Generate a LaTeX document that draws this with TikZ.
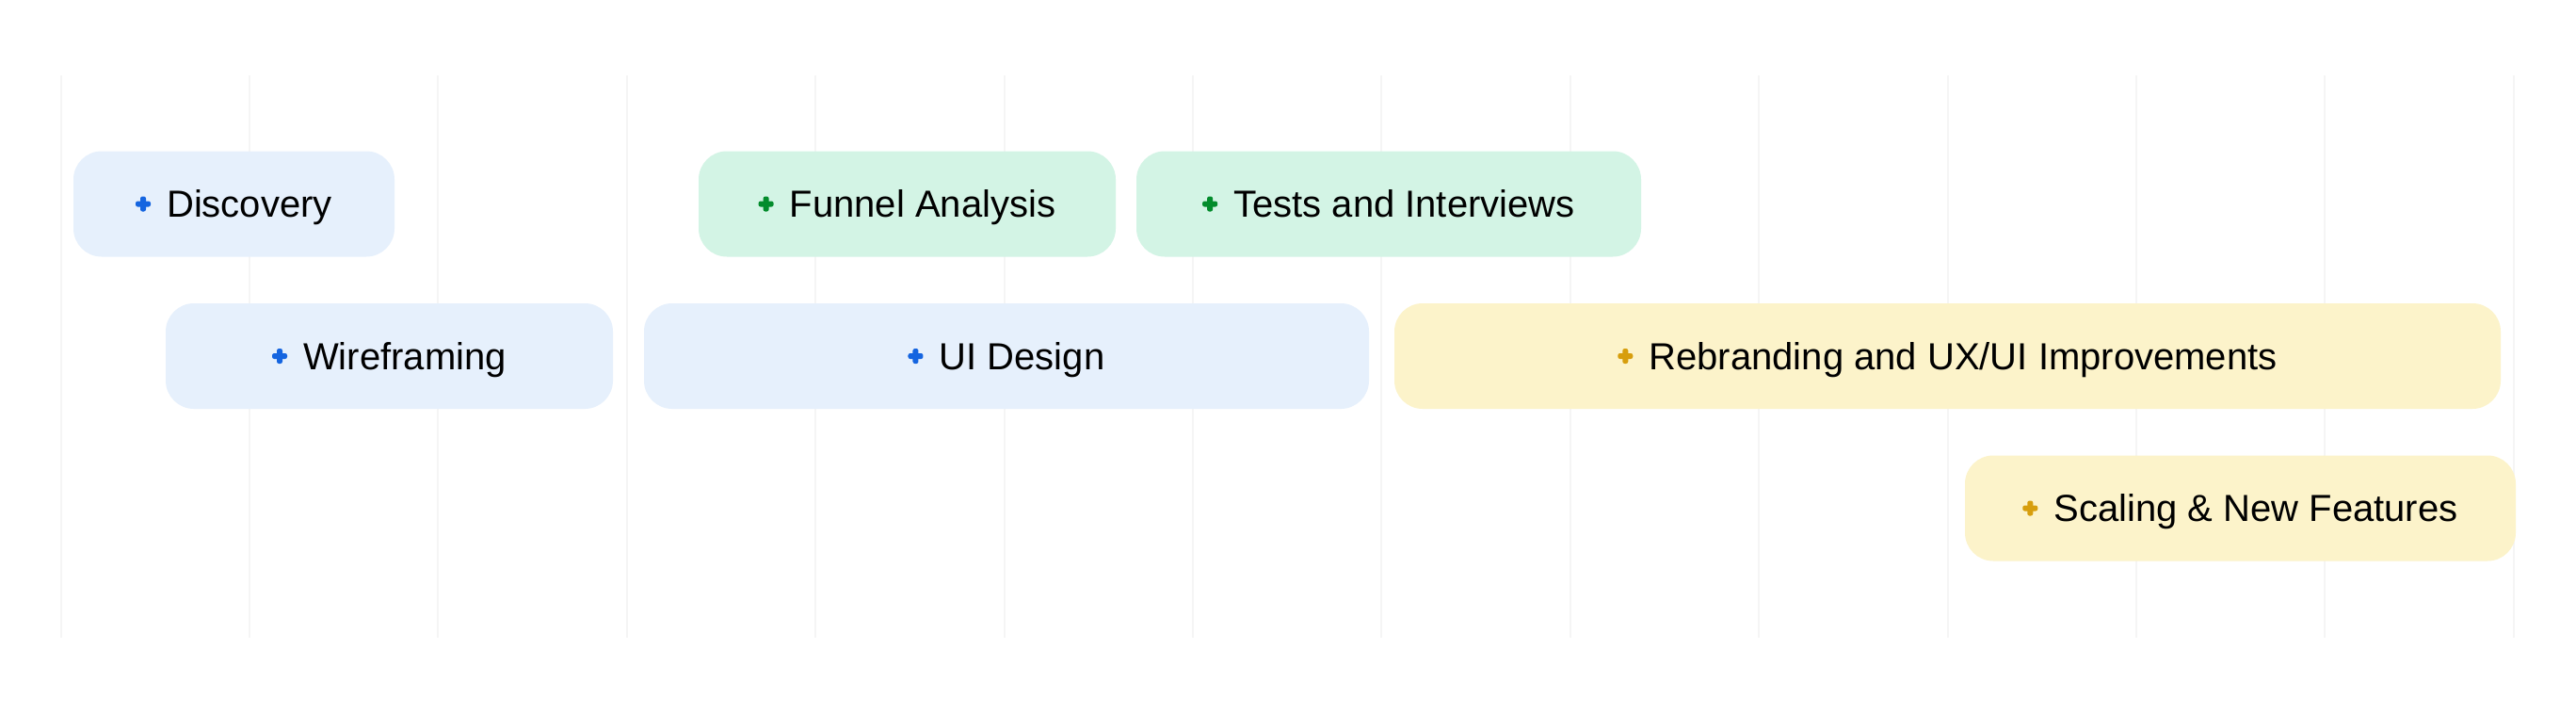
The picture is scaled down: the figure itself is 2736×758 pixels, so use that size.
\documentclass[tikz,border=0pt]{standalone}
\usepackage{fontspec}
\setmainfont{Liberation Sans}
\definecolor{gridc}{HTML}{F5F5F5}
\definecolor{bluefill}{HTML}{E6F0FC}
\definecolor{blueicon}{HTML}{1565E0}
\definecolor{greenfill}{HTML}{D3F4E5}
\definecolor{greenicon}{HTML}{038C2C}
\definecolor{yellowfill}{HTML}{FCF3CA}
\definecolor{yellowicon}{HTML}{D79E0D}
\tikzset{
  gridline/.style={draw=gridc, line width=2pt},
  taskbox/.style={rectangle, rounded corners=30pt, minimum height=112pt, inner sep=0pt, draw=none},
  bluebox/.style={taskbox, fill=bluefill},
  greenbox/.style={taskbox, fill=greenfill},
  yellowbox/.style={taskbox, fill=yellowfill},
  tasklabel/.style={inner sep=0pt, font=\fontsize{40}{48}\selectfont, text height=28.6pt, text depth=0pt, text=black},
  plusicon/.pic={\fill[rounded corners=2.2pt] (-8,-3) rectangle (8,3);
                 \fill[rounded corners=2.2pt] (-3,-8) rectangle (3,8);}
}
\begin{document}
\begin{tikzpicture}[x=1pt, y=-1pt]
\useasboundingbox[fill=white] (0,0) rectangle (2736,758);
\foreach \i in {0,...,13} {
  \draw[gridline] ({64.6+200.4*\i},80) -- ({64.6+200.4*\i},677);
}
% row 1
\node[bluebox, minimum width=341pt] (disc) at (248.5,216.5) {};
\node[greenbox, minimum width=443pt] (funnel) at (963.5,216.5) {};
\node[greenbox, minimum width=536pt] (tests) at (1475,216.5) {};
% row 2
\node[bluebox, minimum width=475pt] (wire) at (413.5,378) {};
\node[bluebox, minimum width=770pt] (ui) at (1069,378) {};
\node[yellowbox, minimum width=1175pt] (rebr) at (2068.5,378) {};
% row 3
\node[yellowbox, minimum width=585pt] (scal) at (2379.5,539.5) {};
% labels
\node[tasklabel] (disc-t) at (disc) {\hspace*{33pt}Discovery};
\node[tasklabel] (funnel-t) at (funnel) {\hspace*{33pt}Funnel Analysis};
\node[tasklabel] (tests-t) at (tests) {\hspace*{33pt}Tests and Interviews};
\node[tasklabel] (wire-t) at (wire) {\hspace*{33pt}Wireframing};
\node[tasklabel] (ui-t) at (ui) {\hspace*{33pt}UI Design};
\node[tasklabel] (rebr-t) at (rebr) {\hspace*{33pt}Rebranding and UX/UI Improvements};
\node[tasklabel] (scal-t) at (scal) {\hspace*{33pt}Scaling \& New Features};
% icons
\path ([xshift=8pt]disc-t.west) pic[color=blueicon] {plusicon};
\path ([xshift=8pt]wire-t.west) pic[color=blueicon] {plusicon};
\path ([xshift=8pt]ui-t.west) pic[color=blueicon] {plusicon};
\path ([xshift=8pt]funnel-t.west) pic[color=greenicon] {plusicon};
\path ([xshift=8pt]tests-t.west) pic[color=greenicon] {plusicon};
\path ([xshift=8pt]rebr-t.west) pic[color=yellowicon] {plusicon};
\path ([xshift=8pt]scal-t.west) pic[color=yellowicon] {plusicon};
\end{tikzpicture}
\end{document}
